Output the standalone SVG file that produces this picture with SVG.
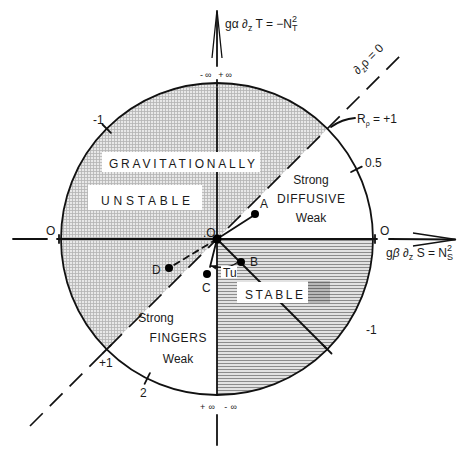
<svg xmlns="http://www.w3.org/2000/svg" width="467" height="451" viewBox="0 0 467 451">
<style>
.ln{stroke:#111;stroke-width:1.8;fill:none;stroke-linecap:round}
.th{stroke:#111;stroke-width:1.3;fill:none}
.dash{stroke:#111;stroke-width:1.7;fill:none;stroke-dasharray:18 10}
.t{font-family:"Liberation Sans","DejaVu Sans",sans-serif;fill:#1a1a1a;font-size:12px}
.s{font-size:9px}
.box{fill:#ffffff}
.dot{fill:#000}
</style>
<defs>
<pattern id="grid" width="3" height="3" patternUnits="userSpaceOnUse"><rect width="3" height="3" fill="#e8e8e8"/><path d="M0 0.5H3M0.5 0V3" stroke="#b4b4b4" stroke-width="0.8"/></pattern>
<pattern id="hatch" width="4" height="3" patternUnits="userSpaceOnUse"><rect width="4" height="3" fill="#e2e2e2"/><path d="M0 0.5H4" stroke="#8c8c8c" stroke-width="1"/></pattern>
<pattern id="hatch2" width="4" height="3" patternUnits="userSpaceOnUse"><rect width="4" height="3" fill="#b8b8b8"/><path d="M0 0.5H4" stroke="#707070" stroke-width="1"/></pattern>
<marker id="ah" viewBox="0 0 10 10" refX="9" refY="5" markerWidth="6" markerHeight="6" orient="auto" markerUnits="userSpaceOnUse"><path d="M0 1L10 5L0 9Z" fill="#111"/></marker>
</defs>

<g id="regions">
<path id="unstable-region" d="M217 239 L327.3 128.7 A156 156 0 0 0 61 239 A156 156 0 0 0 106.7 349.3 Z" fill="url(#grid)"/>
<path id="stable-region" d="M217 239 L373 239 A156 156 0 0 1 217 395 Z" fill="url(#hatch)"/>
<circle id="circle" cx="217" cy="239" r="156" class="ln"/>
</g>

<g id="connectors">
<line x1="217" y1="12" x2="217" y2="66" class="ln"/>
<path d="M212 58 L217 10 L222 58" class="th"/>
<line x1="217" y1="80" x2="217" y2="86" class="ln"/>
<line x1="217" y1="88" x2="217" y2="395" class="ln"/>
<line x1="217" y1="415" x2="217" y2="445" class="ln"/>
<line x1="13" y1="239" x2="47" y2="239" class="ln"/>
<line x1="57" y1="239" x2="377" y2="239" class="ln"/>
<line x1="389" y1="239" x2="455" y2="239.5" class="ln"/>
<path d="M413 233 L456 239.5 L413 246" class="th"/>
<line x1="110.9" y1="132.9" x2="102.5" y2="124.5" class="ln"/>
<line x1="351.1" y1="172" x2="361.8" y2="166.6" class="ln"/>
<line x1="110.9" y1="345.1" x2="102.5" y2="353.5" class="ln"/>
<line x1="149.9" y1="373.1" x2="144.6" y2="383.8" class="ln"/>
<line x1="323.1" y1="345.1" x2="331.5" y2="353.5" class="ln"/>
<line x1="59" y1="235" x2="59" y2="243" class="ln"/>
<line x1="375" y1="235" x2="375" y2="243" class="ln"/>
<line x1="30" y1="426" x2="404" y2="52" class="dash"/>
<line x1="217" y1="239" x2="327" y2="349" class="ln"/>
<line x1="217" y1="239" x2="256" y2="214" class="ln"/>
<line x1="217" y1="239" x2="169" y2="268" class="ln" style="stroke-dasharray:6 5"/>
<line x1="217" y1="239" x2="210" y2="267" class="ln"/>
<path d="M238 262 Q228 270 211 266" class="th" marker-end="url(#ah)"/>
<path d="M355 118 Q342 119 331 127" class="ln"/>
</g>

<g id="labels-boxes">
<rect x="102" y="152" width="158" height="20" class="box"/>
<rect x="88" y="185" width="114" height="25" class="box"/>
<rect x="237" y="282" width="72" height="21" class="box"/>
<rect x="308" y="281" width="22" height="22" fill="url(#hatch2)"/>
<rect x="221" y="266" width="16" height="12" class="box"/>
</g>

<g id="points">
<circle cx="217" cy="239" r="4.5" class="dot"/>
<circle cx="255" cy="214" r="4" class="dot"/>
<circle cx="241" cy="262" r="4" class="dot"/>
<circle cx="207" cy="274" r="4" class="dot"/>
<circle cx="169" cy="268" r="4" class="dot"/>
</g>

<g id="texts">
<text class="t" x="225" y="28" font-size="12">gα ∂<tspan dy="3" font-size="9">z</tspan><tspan dy="-3"> T = −N</tspan><tspan dy="-6" font-size="9">2</tspan><tspan dx="-5" dy="9" font-size="9">T</tspan></text>
<text class="t" x="386" y="257" font-size="12">g<tspan font-style="italic">β</tspan> ∂<tspan dy="3" font-size="9">z</tspan><tspan dy="-3"> S = N</tspan><tspan dy="-6" font-size="9">2</tspan><tspan dx="-5" dy="9" font-size="9">S</tspan></text>
<text class="t" x="358" y="75" font-size="11" transform="rotate(-45 358 75)">∂<tspan dy="3" font-size="8">z</tspan><tspan dy="-3">ρ = 0</tspan></text>
<text class="t" x="357" y="123" font-size="11">R<tspan dy="3" font-size="7">ρ</tspan><tspan dy="-3"> = +1</tspan></text>
<text class="t s" x="200" y="78" textLength="32" lengthAdjust="spacing">-∞ +∞</text>
<text class="t s" x="200" y="410" textLength="37" lengthAdjust="spacing">+∞ -∞</text>
<text class="t" x="93" y="124" font-size="11">-1</text>
<text class="t" x="365" y="167" font-size="11">0.5</text>
<text class="t" x="99" y="367" font-size="11">+1</text>
<text class="t" x="140" y="397" font-size="11">2</text>
<text class="t" x="366" y="334" font-size="11">-1</text>
<text class="t" x="46" y="235" font-size="11">O</text>
<text class="t" x="380" y="235" font-size="11">O</text>
<text class="t" x="203" y="237" font-size="11">.O</text>
<text class="t" x="260" y="208" font-size="11">A</text>
<text class="t" x="250" y="266" font-size="11">B</text>
<text class="t" x="202" y="292" font-size="11">C</text>
<text class="t" x="152" y="274" font-size="11">D</text>
<text class="t" x="223" y="277" font-size="10">Tu</text>
<text class="t" x="109" y="168" font-size="13" textLength="146" lengthAdjust="spacing">GRAVITATIONALLY</text>
<text class="t" x="101" y="205" font-size="13" textLength="89" lengthAdjust="spacing">UNSTABLE</text>
<text class="t" x="245" y="299" font-size="13" textLength="58" lengthAdjust="spacing">STABLE</text>
<text class="t" x="311" y="184" text-anchor="middle">Strong</text>
<text class="t" x="311" y="203" text-anchor="middle" textLength="68" lengthAdjust="spacing">DIFFUSIVE</text>
<text class="t" x="311" y="222" text-anchor="middle">Weak</text>
<text class="t" x="156" y="322" text-anchor="middle">Strong</text>
<text class="t" x="178" y="342" text-anchor="middle" textLength="57" lengthAdjust="spacing">FINGERS</text>
<text class="t" x="178" y="363" text-anchor="middle">Weak</text>
</g>
</svg>
